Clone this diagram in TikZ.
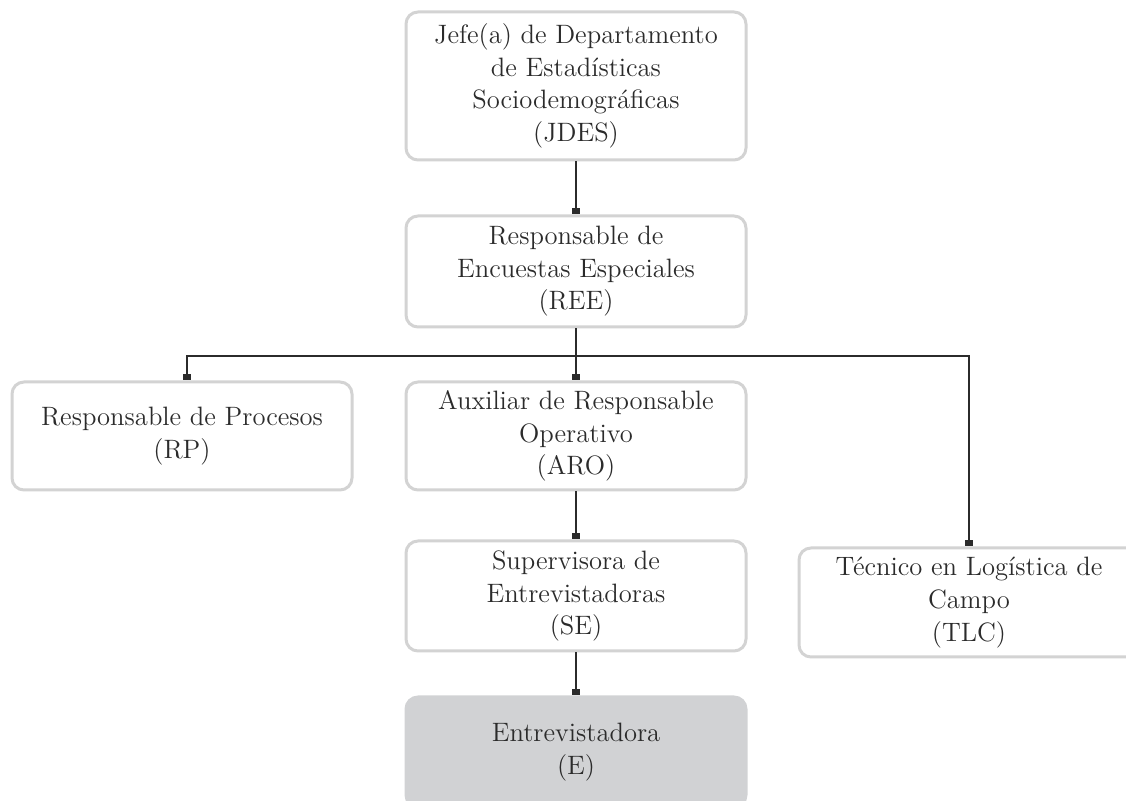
\documentclass[tikz,border=0pt]{standalone}
\usepackage{fontspec}
\usetikzlibrary{arrows.meta}
\definecolor{borde}{HTML}{D3D3D3}
\definecolor{relleno}{HTML}{D1D2D4}
\definecolor{tinta}{HTML}{2B2B2B}

\begin{document}
\begin{tikzpicture}[x=1pt, y=-1pt,
    cargo/.style={draw=borde, line width=1.5pt, rounded corners=6pt, align=center,
      minimum width=170pt, text=tinta, font=\fontsize{13.3}{16.3}\selectfont},
    cargogris/.style={cargo, fill=relleno, draw=relleno},
    linea/.style={draw=tinta, line width=0.65pt},
    punta/.style={linea, -{Square[length=3.4pt,width=3.6pt]}}]
  \useasboundingbox (0,0) rectangle (563,400.5);
  \clip (0,0) rectangle (563,400.5);
  \node[cargo, minimum height=74pt] (jdes) at (288,43)
    {Jefe(a) de Departamento\\de Estadísticas\\Sociodemográficas\\(JDES)};
  \node[cargo, minimum height=55.5pt] (ree) at (288,135.75)
    {Responsable de\\Encuestas Especiales\\(REE)};
  \node[cargo, minimum height=54pt] (rp) at (91,218) {Responsable de Procesos\\(RP)};
  \node[cargo, minimum height=54pt] (aro) at (288,218)
    {Auxiliar de Responsable\\Operativo\\(ARO)};
  \node[cargo, minimum height=55pt] (se) at (288,298)
    {Supervisora de\\Entrevistadoras\\(SE)};
  \node[cargo, minimum height=54.5pt] (tlc) at (484.5,301.25)
    {Técnico en Logística de\\Campo\\(TLC)};
  \node[cargogris, minimum height=55pt] (e) at (288,376) {Entrevistadora\\(E)};
  \coordinate (bus) at (288,178);
  \coordinate (rpin) at ([xshift=2.5pt]rp.north);
  % conectores
  \draw[punta] (jdes) -- (ree);
  \draw[linea] (ree) -- (bus);
  \draw[punta] (bus) -| (rpin);
  \draw[punta] (bus) -- (aro);
  \draw[punta] (bus) -| (tlc);
  \draw[punta] (aro) -- (se);
  \draw[punta] (se) -- (e);
\end{tikzpicture}
\end{document}
